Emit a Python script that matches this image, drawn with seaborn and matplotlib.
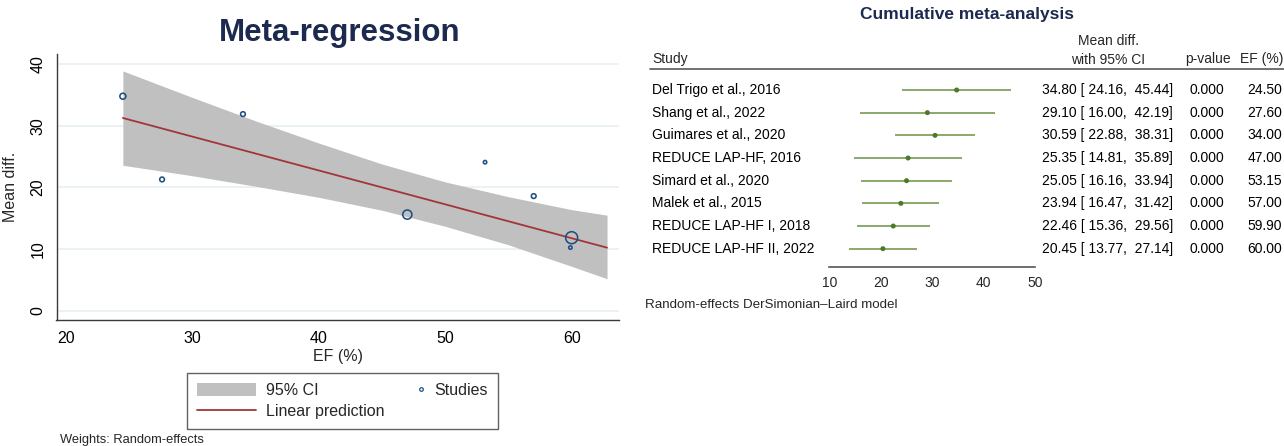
import numpy as np
import pandas as pd
import matplotlib
matplotlib.use("Agg")
import matplotlib.pyplot as plt
import seaborn as sns
from matplotlib.transforms import blended_transform_factory
from matplotlib.lines import Line2D
from matplotlib.patches import Patch
from matplotlib.legend_handler import HandlerLine2D

# ---- study-level data (meta-regression) ----
ef = [24.5, 27.6, 34.0, 47.0, 53.15, 57.0, 59.9, 60.0]
mean_diff = [34.8, 21.3, 31.9, 15.6, 24.1, 18.6, 10.25, 11.85]
weights = [10.1, 6.3, 6.3, 23.8, 3.3, 6.3, 3.3, 40.7]  # random-effects weights (%)

# linear prediction and its 95% CI
pred_ef = [24.5, 62.8]
pred_md = [31.27, 10.23]
band_ef = [24.5, 30, 35, 40, 45, 50, 55, 60, 62.8]
band_hi = [38.9, 34.6, 30.8, 27.2, 23.8, 20.9, 18.5, 16.4, 15.5]
band_lo = [23.6, 21.9, 20.2, 18.4, 16.3, 13.7, 10.7, 7.2, 5.2]

# ---- cumulative meta-analysis (ordered by EF) ----
studies = ["Del Trigo et al., 2016", "Shang et al., 2022", "Guimares et al., 2020",
           "REDUCE LAP-HF, 2016", "Simard et al., 2020", "Malek et al., 2015",
           "REDUCE LAP-HF I, 2018", "REDUCE LAP-HF II, 2022"]
cum_est = [34.80, 29.10, 30.59, 25.35, 25.05, 23.94, 22.46, 20.45]
cum_lo = [24.16, 16.00, 22.88, 14.81, 16.16, 16.47, 15.36, 13.77]
cum_hi = [45.44, 42.19, 38.31, 35.89, 33.94, 31.42, 29.56, 27.14]
p_values = [0.000] * 8
x_ticks_forest = [10, 20, 30, 40, 50]
x_ticks_reg = [20, 30, 40, 50, 60]
y_ticks_reg = [0, 10, 20, 30, 40]

sns.set_theme(style="white")
plt.rcParams["font.family"] = ["Liberation Sans", "DejaVu Sans"]

NAVY = "#1b2a4e"
MARK = "#1f4f7f"
RED = "#a3353a"
BAND = "#c0c0c0"
GRID = "#e6eff1"
CI_GREEN = "#8aa96c"
PT_GREEN = "#4c7a2a"

W, H = 1284, 446
fig = plt.figure(figsize=(W / 100, H / 100), dpi=100)


def fx(px):
    return px / W


def fy(py):
    return 1 - py / H


# ================= Meta-regression =================
ax = fig.add_axes([fx(56.5), fy(320), fx(618.8 - 56.5), (320 - 54.3) / H])
reg = pd.DataFrame({"ef": ef, "md": mean_diff, "w": weights})

ax.fill_between(band_ef, band_lo, band_hi, color=BAND, lw=0, zorder=1)
sns.lineplot(x=pred_ef, y=pred_md, ax=ax, color=RED, lw=1.3, zorder=2)
sns.scatterplot(data=reg, x="ef", y="md", s=reg["w"] * 1.83, marker="o",
                facecolor="none", edgecolor=MARK, linewidth=1.15, ax=ax,
                zorder=3, legend=False)

ax.set_xlim(19.25, 63.73)
ax.set_ylim(-1.5, 41.6)
ax.set_xticks(x_ticks_reg)
ax.set_yticks(y_ticks_reg)
for v in y_ticks_reg:
    ax.axhline(v, color=GRID, lw=1.1, zorder=0)
for side in ("top", "right"):
    ax.spines[side].set_visible(False)
for side in ("left", "bottom"):
    ax.spines[side].set_color("#3a3a3a")
    ax.spines[side].set_linewidth(1.0)
ax.tick_params(axis="both", direction="out", length=5, width=1.0,
               color="#3a3a3a", labelsize=11.5, labelcolor="black")
ax.tick_params(axis="x", pad=3)
ax.tick_params(axis="y", pad=3)
for lab in ax.get_yticklabels():
    lab.set_rotation(90)
    lab.set_va("center")
ax.set_xlabel("EF (%)", fontsize=11.5, labelpad=2)
ax.set_ylabel("Mean diff.", fontsize=11.5, labelpad=4)
ax.yaxis.set_label_coords((18 - 56.5) / (618.8 - 56.5), 0.5)

fig.text(fx(340), fy(33), "Meta-regression", ha="center", va="center",
         fontsize=22.5, fontweight="bold", color=NAVY)


class EdgeMarker(HandlerLine2D):
    """Draw the legend marker at the right end of the handle box."""

    def create_artists(self, legend, orig_handle, xdescent, ydescent,
                       width, height, fontsize, trans):
        m = Line2D([width - 0.25 * fontsize], [height / 2 - ydescent],
                   marker="o", ls="none", markersize=2.6,
                   markerfacecolor="none", markeredgecolor=MARK,
                   markeredgewidth=0.9, transform=trans)
        return [m]


h_ci = Patch(facecolor=BAND, edgecolor="none", label="95% CI")
h_line = Line2D([], [], color=RED, lw=1.3, label="Linear prediction")
h_pts = Line2D([], [], marker="o", ls="none", label="Studies")
leg = fig.legend(handles=[h_ci, h_line, h_pts], ncol=2, loc="upper left",
                 bbox_to_anchor=(fx(187), fy(373)), frameon=True,
                 fontsize=11.5, handlelength=3.75, handleheight=0.9,
                 handletextpad=0.62, columnspacing=-1.25, labelspacing=0.4,
                 borderpad=0.6, borderaxespad=0, fancybox=False,
                 handler_map={h_pts: EdgeMarker()})
leg.get_frame().set_edgecolor("#3a3a3a")
leg.get_frame().set_linewidth(1.0)

fig.text(fx(60), fy(440), "Weights: Random-effects", ha="left", va="center",
         fontsize=9.3)

# ================= Cumulative forest plot =================
row_top, row_step = 90.0, 22.67
y_bottom_px, y_top_px = 266.7, 69.3
fa = fig.add_axes([fx(829.2), fy(y_bottom_px), fx(1034.8 - 829.2),
                   (y_bottom_px - y_top_px) / H])
fa.set_xlim(10, 50)
fa.set_ylim((y_bottom_px - row_top) / row_step, (y_top_px - row_top) / row_step)

rows = np.arange(len(studies))
fa.hlines(rows, cum_lo, cum_hi, color=CI_GREEN, lw=1.4, zorder=2)
sns.scatterplot(x=cum_est, y=rows, ax=fa, color=PT_GREEN, s=13,
                edgecolor="none", zorder=3, legend=False)

for side in ("top", "right", "left"):
    fa.spines[side].set_visible(False)
fa.spines["bottom"].set_color("#555555")
fa.spines["bottom"].set_linewidth(1.2)
fa.set_yticks([])
fa.set_xticks(x_ticks_forest)
fa.tick_params(axis="x", direction="out", length=5, width=1.2, color="#555555",
               labelsize=10, pad=1.5)
fa.set_facecolor("none")

tr = blended_transform_factory(fig.transFigure, fa.transData)
txt = dict(fontsize=10, va="center", transform=tr, color="black")
for i, name in enumerate(studies):
    fa.text(fx(652.5), i, name, ha="left", clip_on=False, **txt)
    fa.text(fx(1042), i, f"{cum_est[i]:.2f} [{cum_lo[i]:6.2f}, {cum_hi[i]:6.2f}]",
            ha="left", clip_on=False, **txt)
    fa.text(fx(1207), i, f"{p_values[i]:.3f}", ha="center", clip_on=False, **txt)
    fa.text(fx(1282), i, f"{ef[i]:.2f}", ha="right", clip_on=False, **txt)

# column headers
fig.text(fx(652.5), fy(59.5), "Study", ha="left", va="center", fontsize=10)
fig.text(fx(1108.5), fy(40.7), "Mean diff.", ha="center", va="center", fontsize=10)
fig.text(fx(1108.5), fy(59.5), "with 95% CI", ha="center", va="center", fontsize=10)
fig.text(fx(1208), fy(59.5), "p-value", ha="center", va="center", fontsize=10)
fig.text(fx(1283), fy(59.5), "EF (%)", ha="right", va="center", fontsize=10)
fig.add_artist(Line2D([fx(650), fx(1284)], [fy(69.3), fy(69.3)],
                      color="#666666", lw=1.3, transform=fig.transFigure))

fig.text(fx(967), fy(15), "Cumulative meta-analysis", ha="center", va="center",
         fontsize=12.5, fontweight="bold", color=NAVY)
fig.text(fx(645), fy(305), "Random-effects DerSimonian\u2013Laird model",
         ha="left", va="center", fontsize=9.6)

fig.savefig("out.png", dpi=100, facecolor="white")
